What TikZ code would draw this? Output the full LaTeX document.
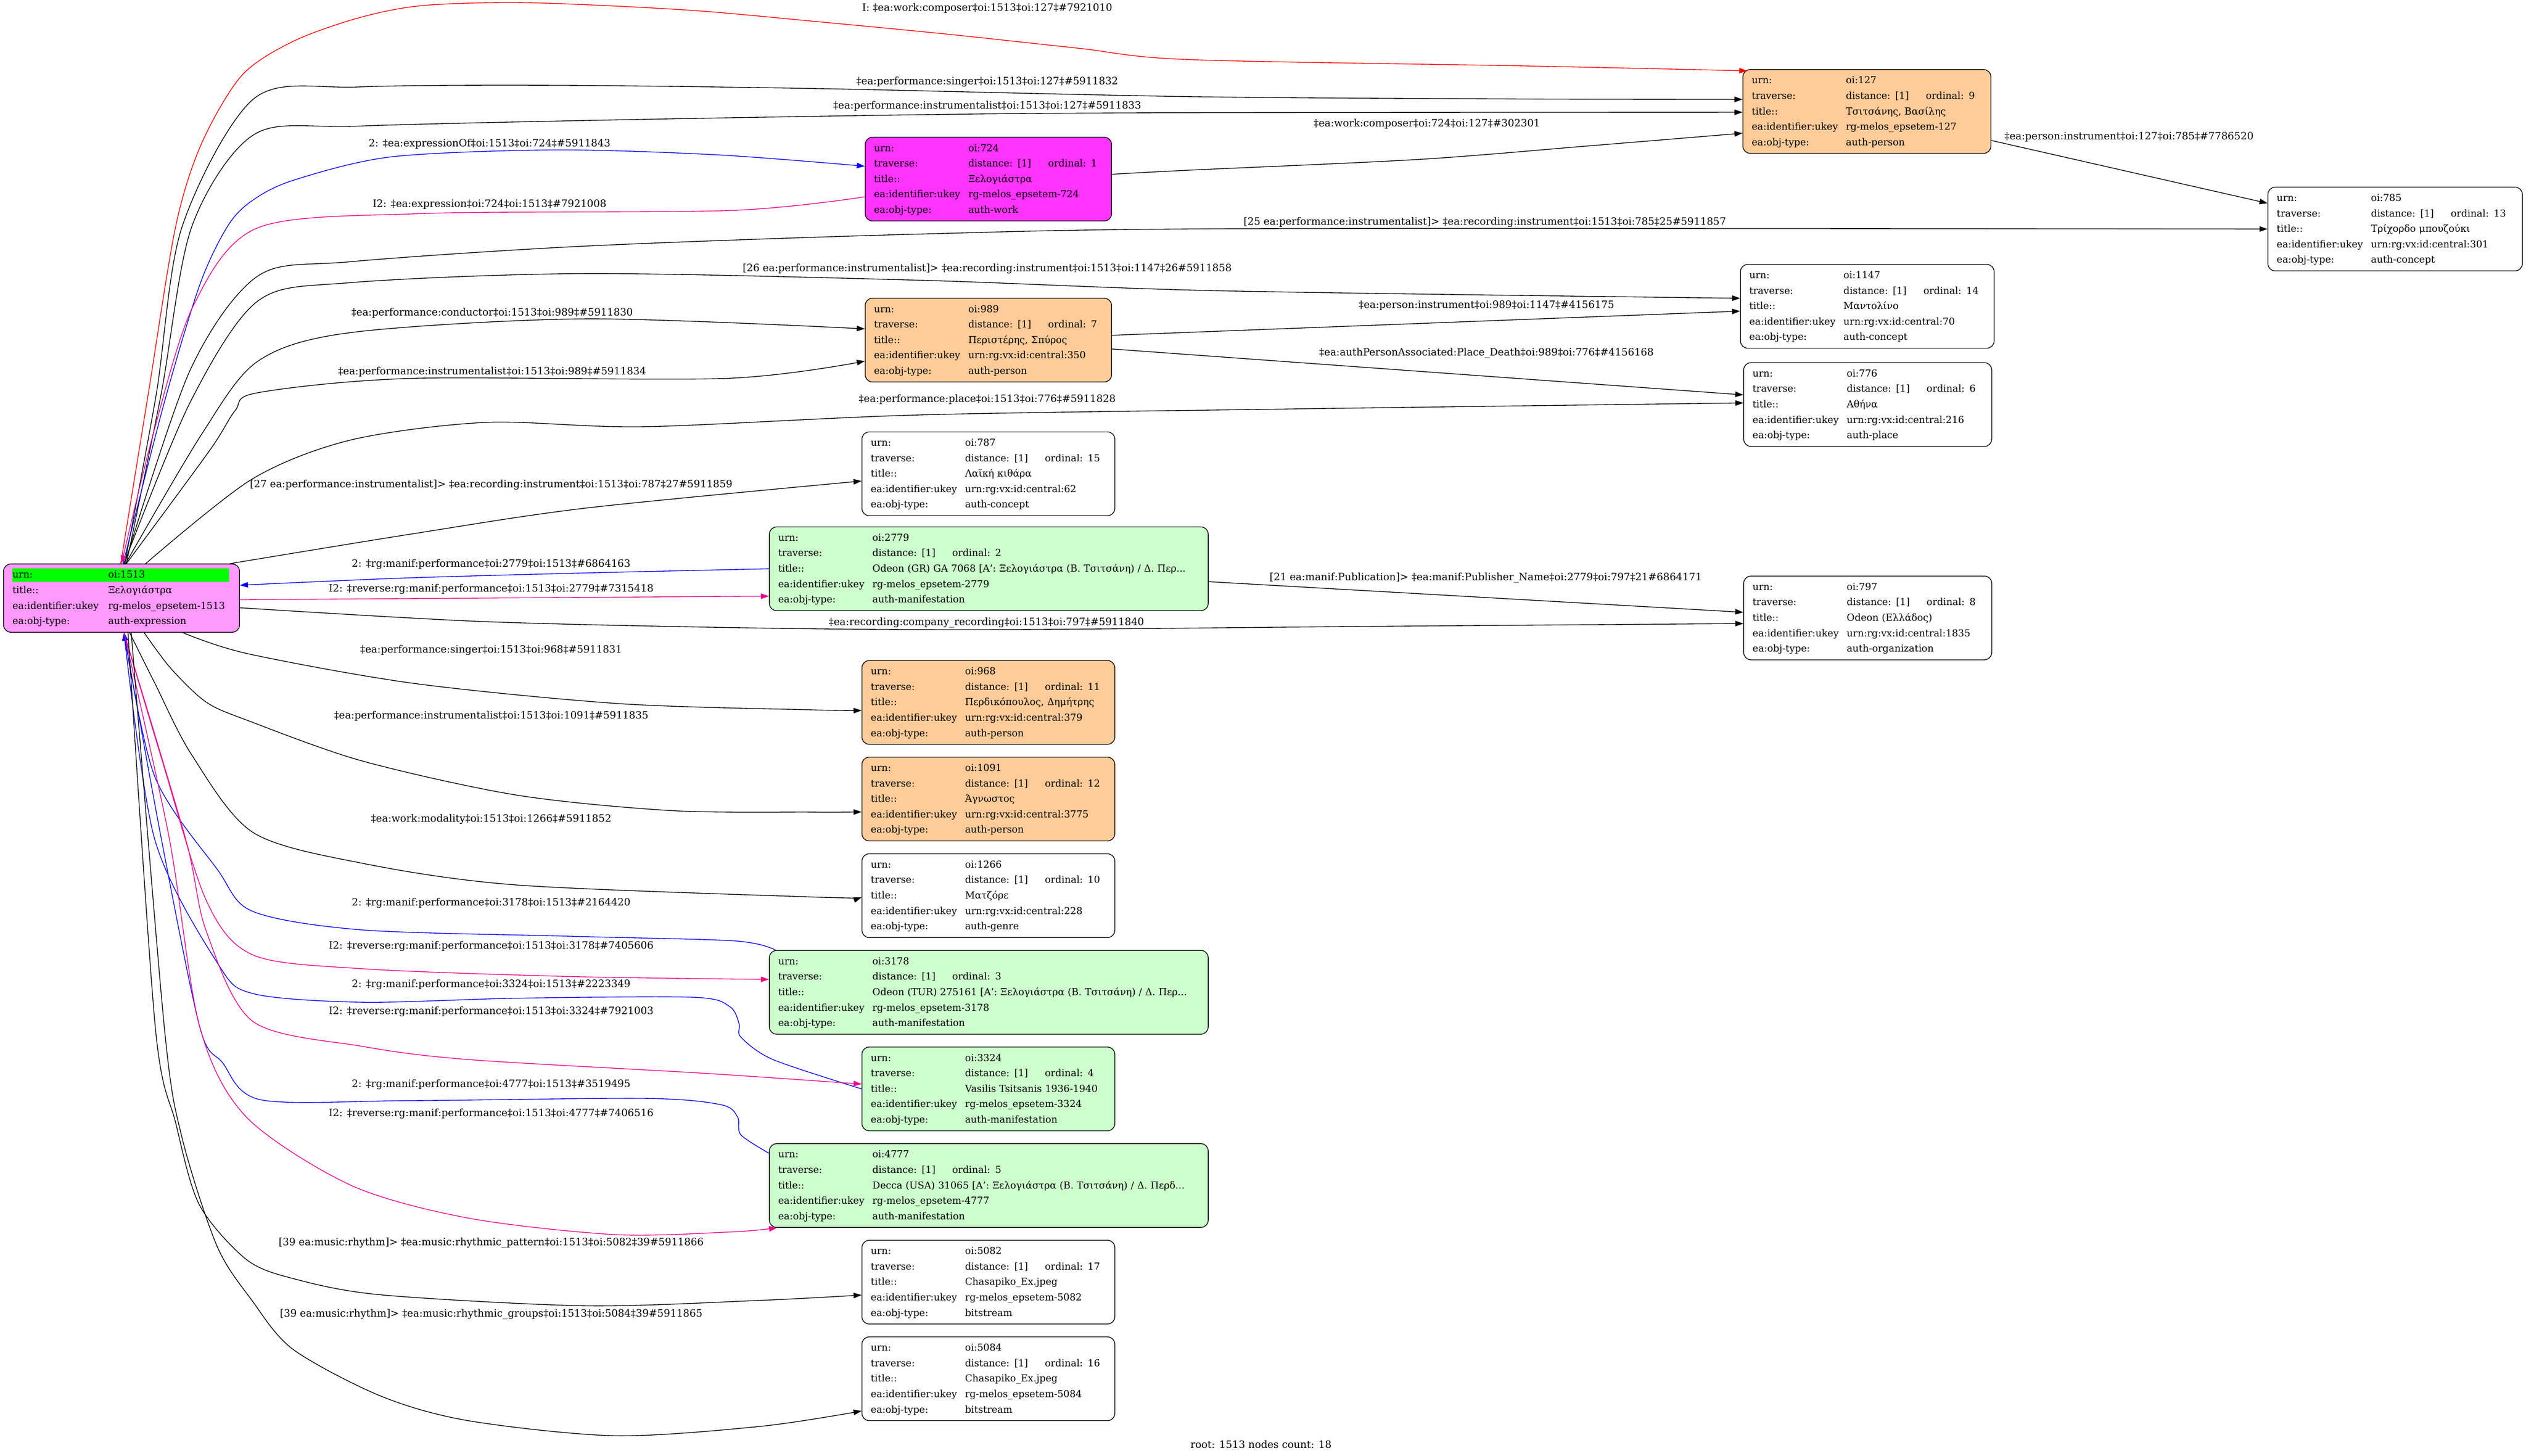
\documentclass[tikz,border=0pt]{standalone}
\usepackage{fontspec}
\setmainfont{DejaVu Serif}
\usetikzlibrary{arrows.meta}

\definecolor{exprpink}{HTML}{FF99FF}
\definecolor{workmag}{HTML}{FF33FF}
\definecolor{persorange}{HTML}{FFCC99}
\definecolor{manifgreen}{HTML}{CCFFCC}
\definecolor{hilite}{HTML}{00FF00}

\newcommand{\objfont}{\fontsize{6}{9.6}\selectfont}
\newcommand{\relfont}{\fontsize{6.3}{7.5}\selectfont}
\newcommand{\objkey}[1]{\makebox[58.5pt][l]{#1}}
\newcommand{\hl}[1]{{\setlength{\fboxsep}{0pt}\colorbox{hilite}{\rule[-2.4pt]{0pt}{8.4pt}#1}}}
\newcommand{\objtab}[5]{\begin{tabular}{@{}l@{}l@{}}
	\objkey{urn:} & #1\\
	\objkey{traverse:} & \makebox[49.6pt][l]{distance: [1]}ordinal: #2\\
	\objkey{title::} & #3\\
	\objkey{ea:identifier:ukey} & #4\\
	\objkey{ea:obj-type:} & #5
	\end{tabular}}

\begin{document}
\begin{tikzpicture}[x=1pt, y=1pt,
	rec/.style={draw, line width=0.45pt, rounded corners=4.5pt, anchor=north west, inner xsep=5.5pt, inner ysep=2pt, font=\objfont},
	rel/.style={line width=0.45pt, -{Triangle[length=5pt,width=3.4pt]}},
	lbl/.style={font=\relfont, inner sep=0pt}]
	\useasboundingbox (0,0) rectangle (1568.5,-903.9);

	% objects
	\node[rec, fill=exprpink, text width=135.5pt] (n1513) at (2,-350) {\begin{tabular}{@{}l@{}l@{}}
		\hl{\objkey{urn:}} & \hl{\makebox[76pt][l]{\hspace{1pt}oi:1513}}\\
		\objkey{title::} & \hspace{1pt}Ξελογιάστρα\\
		\objkey{ea:identifier:ukey} & \hspace{1pt}rg-melos\_epsetem-1513\\
		\objkey{ea:obj-type:} & \hspace{1pt}auth-expression
		\end{tabular}};
	\node[rec, fill=persorange, text width=143pt] (n127) at (1082,-43) {\objtab{oi:127}{9}{Τσιτσάνης, Βασίλης}{rg-melos\_epsetem-127}{auth-person}};
	\node[rec, fill=workmag, text width=142pt] (n724) at (537,-85) {\objtab{oi:724}{1}{Ξελογιάστρα}{rg-melos\_epsetem-724}{auth-work}};
	\node[rec, text width=147pt] (n785) at (1408,-116) {\objtab{oi:785}{13}{Τρίχορδο μπουζούκι}{urn:rg:vx:id:central:301}{auth-concept}};
	\node[rec, text width=146.5pt] (n1147) at (1080.5,-164) {\objtab{oi:1147}{14}{Μαντολίνο}{urn:rg:vx:id:central:70}{auth-concept}};
	\node[rec, fill=persorange, text width=142pt] (n989) at (537,-185) {\objtab{oi:989}{7}{Περιστέρης, Σπύρος}{urn:rg:vx:id:central:350}{auth-person}};
	\node[rec, text width=143pt] (n776) at (1082.5,-225) {\objtab{oi:776}{6}{Αθήνα}{urn:rg:vx:id:central:216}{auth-place}};
	\node[rec, text width=146pt] (n787) at (535,-268) {\objtab{oi:787}{15}{Λαϊκή κιθάρα}{urn:rg:vx:id:central:62}{auth-concept}};
	\node[rec, fill=manifgreen, text width=261.5pt] (n2779) at (477.5,-327) {\objtab{oi:2779}{2}{Odeon (GR) GA 7068 [Α': Ξελογιάστρα (Β. Τσιτσάνη) / Δ. Περ...}{rg-melos\_epsetem-2779}{auth-manifestation}};
	\node[rec, text width=143pt] (n797) at (1082.5,-357.5) {\objtab{oi:797}{8}{Odeon (Ελλάδος)}{urn:rg:vx:id:central:1835}{auth-organization}};
	\node[rec, fill=persorange, text width=146pt] (n968) at (535,-410) {\objtab{oi:968}{11}{Περδικόπουλος, Δημήτρης}{urn:rg:vx:id:central:379}{auth-person}};
	\node[rec, fill=persorange, text width=146pt] (n1091) at (535,-470) {\objtab{oi:1091}{12}{Άγνωστος}{urn:rg:vx:id:central:3775}{auth-person}};
	\node[rec, text width=146pt] (n1266) at (535,-530) {\objtab{oi:1266}{10}{Ματζόρε}{urn:rg:vx:id:central:228}{auth-genre}};
	\node[rec, fill=manifgreen, text width=261.5pt] (n3178) at (477.5,-590) {\objtab{oi:3178}{3}{Odeon (TUR) 275161 [Α': Ξελογιάστρα (Β. Τσιτσάνη) / Δ. Περ...}{rg-melos\_epsetem-3178}{auth-manifestation}};
	\node[rec, fill=manifgreen, text width=146pt] (n3324) at (535,-650) {\objtab{oi:3324}{4}{Vasilis Tsitsanis 1936-1940}{rg-melos\_epsetem-3324}{auth-manifestation}};
	\node[rec, fill=manifgreen, text width=261.5pt] (n4777) at (477.5,-710) {\objtab{oi:4777}{5}{Decca (USA) 31065 [Α': Ξελογιάστρα (Β. Τσιτσάνη) / Δ. Περδ...}{rg-melos\_epsetem-4777}{auth-manifestation}};
	\node[rec, text width=146pt] (n5082) at (535,-770) {\objtab{oi:5082}{17}{Chasapiko\_Ex.jpeg}{rg-melos\_epsetem-5082}{bitstream}};
	\node[rec, text width=146pt] (n5084) at (535,-830) {\objtab{oi:5084}{16}{Chasapiko\_Ex.jpeg}{rg-melos\_epsetem-5084}{bitstream}};

	% relations
	\draw[rel, red] plot[smooth] coordinates {([xshift=-0.5pt]n1513.north) (92,-245) (109,-141) (125,-89.5) (150,-47) (182,-25.7) (223,-11) (263,-3.4) (328,-1.7) (426,-6.2) (507,-13.4) (589,-21.3) (670,-30) (738,-37) (950,-41) ([xshift=3pt,yshift=-1pt]n127.north west)};
	\draw[rel] plot[smooth] coordinates {([xshift=2pt]n1513.north) (97,-245) (113,-141) (158,-61) (223,-54) (345,-53) (507,-55) (738,-60) (950,-61.5) ([yshift=7.5pt]n127.west)};
	\draw[rel] plot[smooth] coordinates {([xshift=3pt]n1513.north) (100,-245) (119,-141) (158,-83.4) (223,-78.3) (385,-74.4) (589,-71) (738,-70) ([yshift=-0.5pt]n127.west)};
	\draw[rel, blue] plot[smooth] coordinates {([xshift=1pt]n1513.north) (102,-250) (124,-177) (141,-141) (156,-125) (182,-112) (243,-97.4) (345,-93.1) (446,-96.2) ([yshift=8pt]n724.west)};
	\draw[rel, magenta] plot[smooth] coordinates {([yshift=-11pt]n724.west) (454,-130.7) (263,-132.6) (160,-141.5) (120,-190) (95,-270) (n1513.north)};
	\draw[rel] plot[smooth] coordinates {([yshift=3pt]n724.east) (738,-105.7) (881,-99) (986.5,-90.6) ([yshift=-13.5pt]n127.west)};
	\draw[rel] ([yshift=-18pt]n127.east) -- ([yshift=16pt]n785.west);
	\draw[rel] plot[smooth] coordinates {([xshift=2pt]n1513.north) (118,-230) (160,-171.5) (218,-162.5) (364,-152.8) (570,-145.4) (776,-142) (n785.west)};
	\draw[rel] plot[smooth] coordinates {([xshift=1.5pt]n1513.north) (118,-250) (160,-187) (218,-175.5) (364,-169.9) (570,-174) (758,-180.6) ([yshift=5pt]n1147.west)};
	\draw[rel] plot[smooth] coordinates {([xshift=2.5pt]n1513.north) (125,-270) (160,-224.4) (218,-206.5) (364,-198) ([yshift=7pt]n989.west)};
	\draw[rel] plot[smooth] coordinates {([xshift=3pt]n1513.north) (130,-280) (146,-255) (160,-243.9) (255,-235) (451,-235) ([yshift=-13pt]n989.west)};
	\draw[rel] ([yshift=3pt]n989.east) -- ([yshift=-3pt]n1147.west);
	\draw[rel] ([yshift=-5.5pt]n989.east) -- ([yshift=6pt]n776.west);
	\draw[rel] plot[smooth] coordinates {([xshift=15pt]n1513.north) (156.4,-297.6) (218,-273.2) (302,-262.3) (400,-265) (570,-257.7) (800,-254) ([yshift=1pt]n776.west)};
	\draw[rel] plot[smooth] coordinates {([xshift=-6pt]n1513.north east) (255,-331.7) (364,-315.5) ([yshift=-4.5pt]n787.west)};
	\draw[rel, blue] plot[smooth] coordinates {(n2779.west) (364,-355.8) (250,-359) ([yshift=8pt]n1513.east)};
	\draw[rel, magenta] ([yshift=-1pt]n1513.east) -- ([yshift=-17pt]n2779.west);
	\draw[rel] ([yshift=-8pt]n2779.east) -- ([yshift=3.5pt]n797.west);
	\draw[rel] plot[smooth] coordinates {([yshift=-6pt]n1513.east) (300,-386) (470,-390) (617,-391) (850,-389) ([yshift=-3.5pt]n797.west)};
	\draw[rel] plot[smooth] coordinates {([xshift=38pt]n1513.south) (154,-406) (257,-424.4) (385,-437) (503,-440.8) ([yshift=-5pt]n968.west)};
	\draw[rel] plot[smooth] coordinates {([xshift=14pt]n1513.south) (106,-415) (128,-436) (154,-447.5) (225,-472.6) (321,-493.8) (417,-503.4) (503,-504.3) ([yshift=-8pt]n1091.west)};
	\draw[rel] plot[smooth] coordinates {([xshift=5pt]n1513.south) (96,-424) (119,-468.7) (157,-516.9) (225,-536.1) (321,-549.6) (503,-557) ([yshift=-1pt]n1266.west)};
	\draw[rel, blue] plot[smooth] coordinates {([xshift=4pt]n3178.north west) (456,-584.3) (353,-581.4) (225,-577.5) (157,-566) (135,-540) (96,-482) ([xshift=1.5pt]n1513.south)};
	\draw[rel, magenta] plot[smooth] coordinates {([xshift=1.5pt]n1513.south) (100,-470) (128,-559) (157,-593) (225,-601.6) (353,-606.4) ([yshift=8pt]n3178.west)};
	\draw[rel, blue] plot[smooth] coordinates {(n3324.west) (480,-658) (460,-644) (459,-636) (453,-625) (430,-619.3) (321,-619.9) (225,-622.4) (157,-617) (135,-598) (96,-521) ([xshift=1.5pt]n1513.south)};
	\draw[rel, magenta] plot[smooth] coordinates {([xshift=1.5pt]n1513.south) (115,-520) (128,-578) (157,-634.3) (225,-649.8) (291,-658) (437,-666.5) ([yshift=3pt]n3324.west)};
	\draw[rel, blue] plot[smooth] coordinates {([yshift=20pt]n4777.west) (460,-704.7) (458,-693.7) (447.5,-686) (400,-682.1) (255,-683.5) (162,-683) (138,-659.7) (124,-637.6) (100,-520) ([xshift=1.5pt]n1513.south)};
	\draw[rel, magenta] plot[smooth] coordinates {([xshift=1.5pt]n1513.south) (105,-520) (124,-637.6) (153,-693.7) (218,-736.1) (291,-756.5) (382,-766.7) (455,-765) ([xshift=5pt]n4777.south west)};
	\draw[rel] plot[smooth] coordinates {([xshift=4pt]n1513.south) (96.4,-637.6) (109,-697) (123.7,-748) (152.8,-782) (182,-794) (236.5,-804.1) (364,-810.9) (473,-807.5) ([yshift=-8pt]n5082.west)};
	\draw[rel] plot[smooth] coordinates {([xshift=6pt]n1513.south) (102,-637.6) (112.8,-705.6) (134.6,-773.5) (156.4,-807.5) (182,-838) (236.5,-867) (291,-882.3) (382,-891.6) (473,-885.7) ([yshift=-20pt]n5084.west)};

	% relation labels
	\node[lbl] (l1) at (613,-5) {I: ‡ea:work:composer‡oi:1513‡oi:127‡\#7921010};
	\node[lbl] (l2) at (613,-50.9) {‡ea:performance:singer‡oi:1513‡oi:127‡\#5911832};
	\node[lbl] (l3) at (613,-66) {‡ea:performance:instrumentalist‡oi:1513‡oi:127‡\#5911833};
	\node[lbl] (l4) at (304,-89.5) {2: ‡ea:expressionOf‡oi:1513‡oi:724‡\#5911843};
	\node[lbl] (l5) at (304,-127) {I2: ‡ea:expression‡oi:724‡oi:1513‡\#7921008};
	\node[lbl] (l6) at (886,-77) {‡ea:work:composer‡oi:724‡oi:127‡\#302301};
	\node[lbl] (l7) at (1322,-85) {‡ea:person:instrument‡oi:127‡oi:785‡\#7786520};
	\node[lbl] (l8) at (922,-138) {[25 ea:performance:instrumentalist]> ‡ea:recording:instrument‡oi:1513‡oi:785‡25\#5911857};
	\node[lbl] (l9) at (613,-167) {[26 ea:performance:instrumentalist]> ‡ea:recording:instrument‡oi:1513‡oi:1147‡26\#5911858};
	\node[lbl] (l10) at (305.6,-194.3) {‡ea:performance:conductor‡oi:1513‡oi:989‡\#5911830};
	\node[lbl] (l11) at (305.6,-230.9) {‡ea:performance:instrumentalist‡oi:1513‡oi:989‡\#5911834};
	\node[lbl] (l12) at (923,-189.6) {‡ea:person:instrument‡oi:989‡oi:1147‡\#4156175};
	\node[lbl] (l13) at (923,-219.3) {‡ea:authPersonAssociated:Place\_Death‡oi:989‡oi:776‡\#4156168};
	\node[lbl] (l14) at (613,-248) {‡ea:performance:place‡oi:1513‡oi:776‡\#5911828};
	\node[lbl] (l15) at (305,-301) {[27 ea:performance:instrumentalist]> ‡ea:recording:instrument‡oi:1513‡oi:787‡27\#5911859};
	\node[lbl] (l16) at (305,-350.4) {2: ‡rg:manif:performance‡oi:2779‡oi:1513‡\#6864163};
	\node[lbl] (l17) at (305,-366) {I2: ‡reverse:rg:manif:performance‡oi:1513‡oi:2779‡\#7315418};
	\node[lbl] (l18) at (922.6,-359) {[21 ea:manif:Publication]> ‡ea:manif:Publisher\_Name‡oi:2779‡oi:797‡21\#6864171};
	\node[lbl] (l19) at (612.5,-386.7) {‡ea:recording:company\_recording‡oi:1513‡oi:797‡\#5911840};
	\node[lbl] (l20) at (305,-403.6) {‡ea:performance:singer‡oi:1513‡oi:968‡\#5911831};
	\node[lbl] (l21) at (305,-444.6) {‡ea:performance:instrumentalist‡oi:1513‡oi:1091‡\#5911835};
	\node[lbl] (l22) at (305,-508.8) {‡ea:work:modality‡oi:1513‡oi:1266‡\#5911852};
	\node[lbl] (l23) at (305,-560.8) {2: ‡rg:manif:performance‡oi:3178‡oi:1513‡\#2164420};
	\node[lbl] (l24) at (305,-587.5) {I2: ‡reverse:rg:manif:performance‡oi:1513‡oi:3178‡\#7405606};
	\node[lbl] (l25) at (305,-611.6) {2: ‡rg:manif:performance‡oi:3324‡oi:1513‡\#2223349};
	\node[lbl] (l26) at (305,-628.2) {I2: ‡reverse:rg:manif:performance‡oi:1513‡oi:3324‡\#7921003};
	\node[lbl] (l27) at (305,-673.6) {2: ‡rg:manif:performance‡oi:4777‡oi:1513‡\#3519495};
	\node[lbl] (l28) at (305,-691.6) {I2: ‡reverse:rg:manif:performance‡oi:1513‡oi:4777‡\#7406516};
	\node[lbl] (l29) at (305,-771.8) {[39 ea:music:rhythm]> ‡ea:music:rhythmic\_pattern‡oi:1513‡oi:5082‡39\#5911866};
	\node[lbl] (l30) at (305,-816) {[39 ea:music:rhythm]> ‡ea:music:rhythmic\_groups‡oi:1513‡oi:5084‡39\#5911865};

	\node[lbl] (root) at (783,-897) {root: 1513 nodes count: 18};
\end{tikzpicture}
\end{document}
